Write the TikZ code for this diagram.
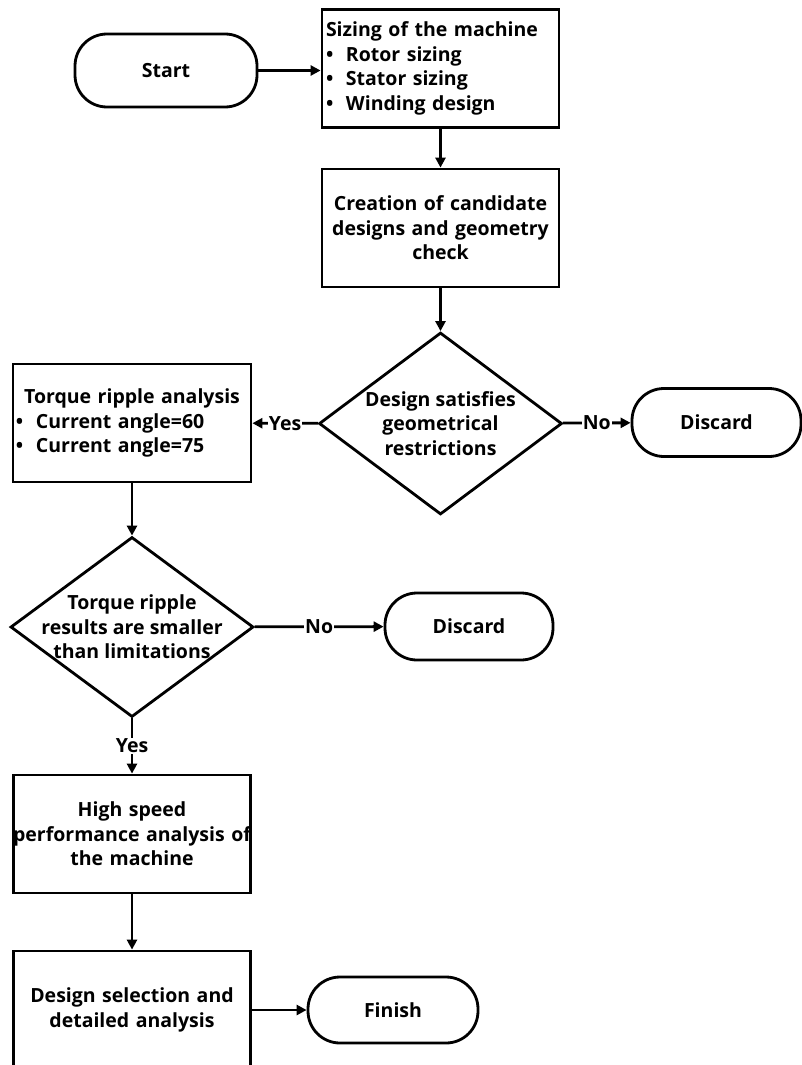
\documentclass[tikz,border=0pt]{standalone}
\usepackage{fontspec}
\setmainfont{Open Sans}
\usetikzlibrary{arrows.meta,shapes.geometric}
\newcommand\bul{\makebox[20pt][l]{\textbullet}}
\tikzset{
  every node/.style={font=\fontsize{19.5}{24.5}\selectfont\bfseries},
  procbox/.style={draw, line width=2.8pt, rectangle, minimum width=237pt, minimum height=118pt, align=center, inner sep=3pt},
  term/.style={draw, line width=2.8pt, rectangle, rounded corners=32pt, minimum height=68pt, minimum width=169pt},
  decision/.style={draw, line width=2.8pt, diamond, minimum width=243pt, minimum height=182pt, inner sep=0pt},
  arr/.style={line width=2.8pt, -{Triangle[length=10pt,width=10pt]}},
  lbl/.style={fill=white, inner sep=1pt}
}
\begin{document}
\begin{tikzpicture}[x=1pt,y=-1pt]
\useasboundingbox (0,0) rectangle (802,1065);
\node[term, minimum width=182pt, minimum height=73pt] (start) at (166,70.5) {Start};
\node[procbox, align=left, text width=229pt, inner xsep=4pt] (box1) at (440.5,68.5)
  {Sizing of the machine\\\bul Rotor sizing\\\bul Stator sizing\\\bul Winding design};
\node[procbox, text width=229pt] (box2) at (440.5,228) {Creation of candidate\\designs and geometry\\check};
\node[decision] (d1) at (440.5,423.5) {};
\node[align=center] (d1t) at (d1.center) {Design satisfies\\geometrical\\restrictions};
\node[procbox, align=left, text width=232pt, inner xsep=3pt] (tra) at (132,423)
  {\makebox[232pt][c]{Torque ripple analysis}\\\bul Current angle=60\\\bul Current angle=75};
\node[term] (dis1) at (716.5,422.5) {Discard};
\node[decision, minimum height=180pt] (d2) at (132,627) {};
\node[align=center] (d2t) at (d2.center) {Torque ripple\\results are smaller\\than limitations};
\node[term, minimum width=168pt, minimum height=67pt] (dis2) at (469,626.5) {Discard};
\node[procbox, text width=230pt] (box3) at (132,834) {High speed\\\makebox[230pt][c]{performance analysis of}\\the machine};
\node[procbox, text width=230pt] (box4) at (132,1010) {Design selection and\\detailed analysis};
\node[term, minimum width=170pt, minimum height=66pt] (fin) at (393,1010) {Finish};
\draw[arr] (start.east) -- (start.east -| box1.west);
\draw[arr] (box1) -- (box2);
\draw[arr] (box2) -- (d1);
\draw[arr] (d1) -- node[lbl] (yes1) {Yes} (tra);
\draw[arr] (d1) -- node[lbl] (no1) {No} (dis1);
\draw[arr] (tra) -- (d2);
\draw[arr] (d2) -- node[lbl] (no2) {No} (dis2);
\draw[arr] (d2) -- node[lbl] (yes2) {Yes} (box3);
\draw[arr] (box3) -- (box4);
\draw[arr] (box4) -- (fin);
\end{tikzpicture}
\end{document}
